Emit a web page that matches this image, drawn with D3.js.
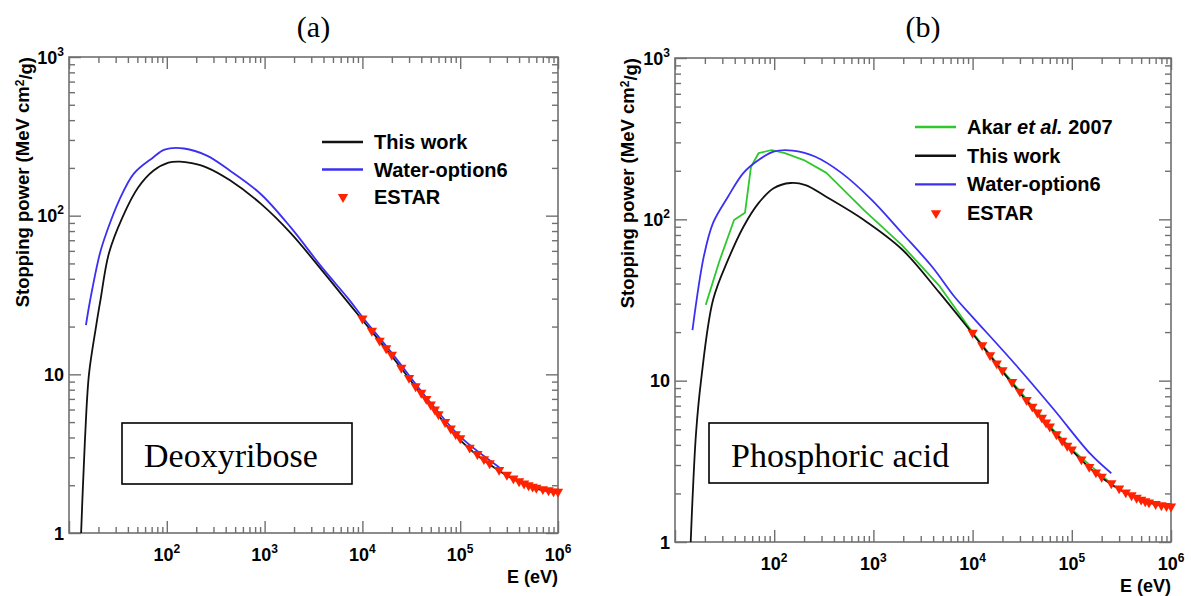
<!DOCTYPE html>
<html>
<head>
<meta charset="utf-8">
<script src="https://cdn.jsdelivr.net/npm/d3@7"></script>
<style>
  body { margin: 0; background: #fff; }
  text { font-family: "Liberation Sans", Arial, sans-serif; }
</style>
</head>
<body>
<script>
// ---- data (E in eV, stopping power in MeV cm2/g) ----
var estarE = [1e4, 1.25e4, 1.5e4, 1.75e4, 2e4, 2.5e4, 3e4, 3.5e4, 4e4, 4.5e4, 5e4, 5.5e4, 6e4, 7e4, 8e4, 9e4,
              1e5, 1.25e5, 1.5e5, 1.75e5, 2e5, 2.5e5, 3e5, 3.5e5, 4e5, 4.5e5, 5e5, 5.5e5, 6e5, 7e5, 8e5, 9e5, 1e6];
var estarDeoxy = [22.5, 18.8, 16.3, 14.6, 13.3, 11.0, 9.5, 8.4, 7.65, 7.0, 6.45, 6.0, 5.6, 5.0, 4.55, 4.2,
                  3.95, 3.45, 3.15, 2.92, 2.75, 2.5, 2.33, 2.21, 2.12, 2.05, 2.0, 1.96, 1.93, 1.89, 1.86, 1.83, 1.82];
var estarPhos = [19.8, 16.6, 14.4, 12.8, 11.6, 9.8, 8.55, 7.6, 6.9, 6.35, 5.9, 5.5, 5.2, 4.65, 4.25, 3.95,
                 3.75, 3.25, 2.92, 2.7, 2.54, 2.31, 2.15, 2.03, 1.95, 1.88, 1.83, 1.79, 1.76, 1.72, 1.69, 1.67, 1.66];

var deoxyWorkE = [13.3, 13.8, 14.6, 16, 18.9, 20.9, 25.6, 35.3, 50.7, 72.8, 104, 136, 180, 257, 443, 912, 1860, 3860, 6600, 1e4, 2e4, 5e4, 1e5, 2e5, 5e5, 1e6];
var deoxyWorkS = [1.0, 1.8, 4.0, 10, 20, 29, 58, 98, 150, 192, 216, 219, 214, 201, 167, 119, 77.3, 45.2, 30.1, 22.0, 13.0, 6.3, 3.85, 2.7, 1.97, 1.79];
var deoxyWaterE = [14.9, 16.4, 20.7, 24.5, 32.4, 46, 72, 95, 150, 257, 443, 912, 1860, 3860, 7230, 1e4, 2e4, 5e4, 1e5, 2.5e5];
var deoxyWaterS = [20.4, 29, 57.8, 80, 124, 184, 232, 261, 265, 239, 192, 137, 84, 47.2, 29.8, 23.0, 13.6, 6.6, 4.05, 2.6];

var phosWorkE = [14.4, 15.0, 16.3, 18.3, 24.2, 34.2, 49, 69.5, 98.6, 146, 207, 334, 803, 1950, 4650, 9340, 2e4, 5e4, 1e5, 2e5, 5e5, 1e6];
var phosWorkS = [1.0, 1.82, 4.74, 10, 31.7, 56, 90, 126, 156, 168, 163, 138, 99, 65, 35, 20.6, 11.4, 5.8, 3.7, 2.5, 1.82, 1.65];
var phosAkarE = [20.4, 28, 39.4, 50.8, 58.3, 69.5, 94.4, 128, 199, 336, 803, 1950, 4650, 1e4, 2e4, 5e4, 1e5, 2.5e5];
var phosAkarS = [29.5, 55, 99, 110, 211, 257, 269, 257, 233, 194, 114, 69, 38.5, 19.9, 11.6, 5.9, 3.75, 2.3];
var phosWaterE = [15, 19.5, 24.2, 34.2, 49, 69.5, 98.6, 153, 257, 476, 961, 1950, 3890, 6600, 1e4, 2.7e4, 6.5e4, 1.55e5, 2.5e5];
var phosWaterS = [20.6, 58.7, 95, 138, 194, 233, 263, 267, 245, 194, 132, 82, 51, 33, 24.8, 12.6, 6.7, 3.5, 2.67];

// tick labels
var xTickValues = [1e2, 1e3, 1e4, 1e5, 1e6];
var xTickExp = ["2", "3", "4", "5", "6"];
var yTickValues = [1, 10, 100, 1000];
var yTickBase = ["1", "10", "10", "10"];
var yTickExp = ["", "", "2", "3"];

var frameColor = "#707070";
var colBlack = "#111", colBlue = "#3b30f2", colGreen = "#2ec82e", colRed = "#ff2200";

var svg = d3.select("body").append("svg")
    .attr("width", 1191)
    .attr("height", 596);

var xMinor = [], yMinor = [];
[1, 2, 3, 4, 5].forEach(function(d) { for (var k = 2; k <= 9; k++) xMinor.push(k * Math.pow(10, d)); });
[0, 1, 2].forEach(function(d) { for (var k = 2; k <= 9; k++) yMinor.push(k * Math.pow(10, d)); });

function drawPanel(p) {
  var width = p.width, height = p.height;
  var g = svg.append("g").attr("transform", "translate(" + p.left + "," + p.top + ")");

  var x = d3.scaleLog().domain([10, 1e6]).range([0, width]);
  var y = d3.scaleLog().domain([1, 1000]).range([height, 0]);

  // panel title
  svg.append("text")
    .attr("x", p.left + width / 2).attr("y", 37)
    .attr("text-anchor", "middle")
    .style("font-family", "'Liberation Serif', 'Times New Roman', serif")
    .style("font-size", "30px")
    .text(p.title);

  // ticks on all four sides, pointing inward
  function ticks(axis, vals, size, tr) {
    var a = g.append("g").attr("transform", tr)
      .call(axis.tickValues(vals).tickSize(size).tickSizeOuter(0).tickFormat(""));
    a.select(".domain").remove();
    a.selectAll("line").attr("stroke", frameColor).attr("stroke-width", 1.4);
  }
  var xMajor = [10].concat(xTickValues);
  ticks(d3.axisBottom(x), xMinor, -6, "translate(0," + height + ")");
  ticks(d3.axisBottom(x), xMajor, -12, "translate(0," + height + ")");
  ticks(d3.axisTop(x), xMinor, -6, "translate(0,0)");
  ticks(d3.axisTop(x), xMajor, -12, "translate(0,0)");
  ticks(d3.axisLeft(y), yMinor, -6, "translate(0,0)");
  ticks(d3.axisLeft(y), yTickValues, -12, "translate(0,0)");
  ticks(d3.axisRight(y), yMinor, -6, "translate(" + width + ",0)");
  ticks(d3.axisRight(y), yTickValues, -12, "translate(" + width + ",0)");

  g.append("rect")
    .attr("width", width).attr("height", height)
    .attr("fill", "none").attr("stroke", frameColor).attr("stroke-width", 1.6);

  // tick labels
  xTickValues.forEach(function(v, i) {
    var t = g.append("text")
      .attr("x", x(v)).attr("y", height + 28)
      .attr("text-anchor", "middle")
      .style("font-size", "18px").style("font-weight", "bold");
    t.append("tspan").text("10");
    t.append("tspan").attr("dy", -8).style("font-size", "12px").text(xTickExp[i]);
  });
  yTickValues.forEach(function(v, i) {
    var t = g.append("text")
      .attr("x", -5).attr("y", y(v) + 6.5)
      .attr("text-anchor", "end")
      .style("font-size", "18px").style("font-weight", "bold");
    t.append("tspan").text(yTickBase[i]);
    if (yTickExp[i]) t.append("tspan").attr("dy", -8).style("font-size", "12px").text(yTickExp[i]);
  });

  // axis titles
  g.append("text")
    .attr("x", width).attr("y", height + 50)
    .attr("text-anchor", "end")
    .style("font-size", "18px").style("font-weight", "bold")
    .text("E (eV)");
  var yt = g.append("text")
    .attr("transform", "translate(" + p.ytitleX + ",0) rotate(-90)")
    .attr("text-anchor", "end")
    .attr("dy", "0.35em")
    .style("font-size", "18.5px").style("font-weight", "bold");
  yt.append("tspan").text("Stopping power (MeV cm");
  yt.append("tspan").attr("dy", "-0.45em").style("font-size", "12px").text("2");
  yt.append("tspan").attr("dy", "0.45em").text("/g)");

  // curves
  var line = d3.line()
    .x(function(d) { return x(d[0]); })
    .y(function(d) { return y(d[1]); });
  p.series.forEach(function(s) {
    g.append("path")
      .datum(d3.zip(s.E, s.S))
      .attr("fill", "none")
      .attr("stroke", s.color)
      .attr("stroke-width", 1.8)
      .attr("stroke-linejoin", "round")
      .attr("d", line.curve(s.smooth ? d3.curveCatmullRom.alpha(0.5) : d3.curveLinear));
  });

  // ESTAR markers
  var tri = d3.symbol().type(d3.symbolTriangle).size(46);
  g.append("g").selectAll("path")
    .data(d3.zip(estarE, p.estar))
    .enter()
    .append("path")
      .attr("d", tri)
      .attr("transform", function(d) { return "translate(" + x(d[0]) + "," + y(d[1]) + ") rotate(180)"; })
      .attr("fill", colRed);

  // legend
  var lg = p.legend;
  lg.items.forEach(function(it, i) {
    var ly = lg.y + i * lg.step;
    if (it.marker) {
      g.append("path").attr("d", tri)
        .attr("transform", "translate(" + (lg.x + 21) + "," + ly + ") rotate(180)")
        .attr("fill", colRed);
    } else {
      g.append("line")
        .attr("x1", lg.x).attr("x2", lg.x + 41)
        .attr("y1", ly).attr("y2", ly)
        .attr("stroke", it.color).attr("stroke-width", 2.4);
    }
    var t = g.append("text")
      .attr("x", lg.x + 52).attr("y", ly + 7)
      .style("font-size", "20px").style("font-weight", "bold");
    it.label.forEach(function(part) {
      t.append("tspan").style("font-style", part[1] ? "italic" : "normal").text(part[0]);
    });
  });

  // material box
  g.append("rect")
    .attr("x", p.box.x).attr("y", p.box.y)
    .attr("width", p.box.w).attr("height", p.box.h)
    .attr("fill", "#fff").attr("stroke", "#000").attr("stroke-width", 1.6);
  g.append("text")
    .attr("x", p.box.x + 22).attr("y", p.box.y + 44)
    .style("font-family", "'Liberation Serif', 'Times New Roman', serif")
    .style("font-size", "34px")
    .text(p.box.text);
}

drawPanel({
  title: "(a)", left: 69, top: 57, width: 489, height: 476, ytitleX: -46,
  estar: estarDeoxy,
  series: [
    { E: deoxyWorkE, S: deoxyWorkS, color: colBlack, smooth: true },
    { E: deoxyWaterE, S: deoxyWaterS, color: colBlue, smooth: true }
  ],
  legend: { x: 253, y: 85, step: 27.5, items: [
    { color: colBlack, label: [["This work"]] },
    { color: colBlue, label: [["Water-option6"]] },
    { marker: true, label: [["ESTAR"]] }
  ] },
  box: { x: 53, y: 366, w: 230, h: 61, text: "Deoxyribose" }
});

drawPanel({
  title: "(b)", left: 675, top: 58, width: 496, height: 484, ytitleX: -47,
  estar: estarPhos,
  series: [
    { E: phosAkarE, S: phosAkarS, color: colGreen, smooth: false },
    { E: phosWorkE, S: phosWorkS, color: colBlack, smooth: true },
    { E: phosWaterE, S: phosWaterS, color: colBlue, smooth: true }
  ],
  legend: { x: 240, y: 69, step: 28.7, items: [
    { color: colGreen, label: [["Akar "], ["et al.", true], [" 2007"]] },
    { color: colBlack, label: [["This work"]] },
    { color: colBlue, label: [["Water-option6"]] },
    { marker: true, label: [["ESTAR"]] }
  ] },
  box: { x: 34, y: 365, w: 279, h: 60, text: "Phosphoric acid" }
});
</script>
</body>
</html>
